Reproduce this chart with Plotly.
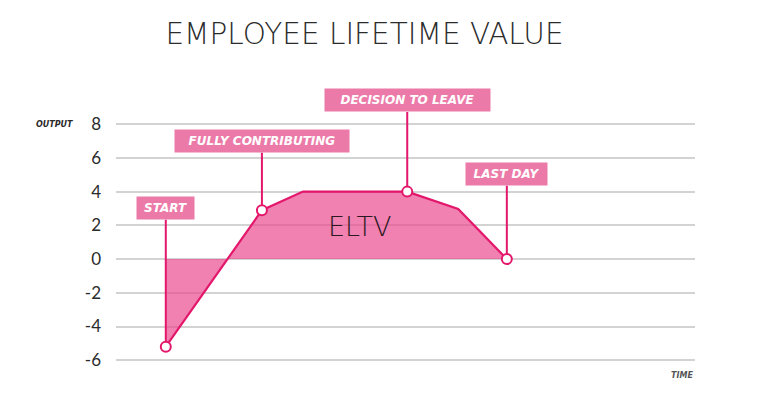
import plotly.graph_objects as go

# Output curve over time
curve_x = [0.86, 2.52, 3.23, 5.03, 5.91, 6.75]
curve_y = [-5.2, 2.9, 4.0, 4.0, 2.97, 0.0]

# Milestones
milestone_names = ["START", "FULLY CONTRIBUTING", "DECISION TO LEAVE", "LAST DAY"]
milestone_x = [0.86, 2.52, 5.03, 6.75]
milestone_y = [-5.2, 2.9, 4.0, 0.0]
label_y = [3.02, 6.98, 9.41, 5.03]
label_w = [57, 174, 165, 81]

y_ticks = [8, 6, 4, 2, 0, -2, -4, -6]
y_tick_text = ["8", "6", "4", "2", "0", "-2", "-4", "-6"]

LINE = "#E3176B"
BOX = "#EC7AA9"
FILL = "rgba(234,70,138,0.68)"
GRID = "#D3D3D3"
TXT = "#2b2b2b"

# page body has an 8px margin: figure is offset by 8px
W, H = 750, 408

fig = go.Figure()

fig.add_trace(go.Scatter(
    x=curve_x, y=curve_y, mode="lines", fill="tozeroy",
    fillcolor=FILL, line=dict(color=LINE, width=2.2), hoverinfo="skip",
    showlegend=False))

for name, mx, my, ly, w in zip(milestone_names, milestone_x, milestone_y, label_y, label_w):
    fig.add_annotation(
        x=mx, y=my, ax=mx, ay=ly, xref="x", yref="y", axref="x", ayref="y",
        text=name, showarrow=True, arrowhead=0, arrowwidth=2, arrowcolor=LINE,
        standoff=5, bgcolor=BOX, width=w - 2, height=20, borderpad=1,
        font=dict(family="DejaVu Sans, sans-serif", size=12, color="white",
                  weight="bold", style="italic"))

fig.add_trace(go.Scatter(
    x=milestone_x, y=milestone_y, mode="markers",
    marker=dict(size=10, color="white", line=dict(color=LINE, width=2)),
    hoverinfo="skip", showlegend=False))

fig.add_annotation(x=4.2, y=1.95, xref="x", yref="y", text="ELTV", showarrow=False,
                   font=dict(family="DejaVu Sans, sans-serif", size=27, color="#2a1822",
                             weight=200))

fig.add_annotation(x=-41 / 579, y=8 / 17.2 + 6.58 / 17.2, xref="paper", yref="paper",
                   text="OUTPUT", showarrow=False, xanchor="right", yanchor="middle",
                   font=dict(family="DejaVu Sans, sans-serif", size=8, color=TXT,
                             weight="bold", style="italic"))
fig.add_annotation(x=1, y=-5 / 290, xref="paper", yref="paper", text="TIME",
                   showarrow=False, xanchor="right", yanchor="middle",
                   font=dict(family="DejaVu Sans, sans-serif", size=8, color="#555",
                             weight="bold", style="italic"))

fig.update_layout(
    width=W, height=H,
    margin=dict(l=108, r=63, t=72, b=46),
    paper_bgcolor="white", plot_bgcolor="white",
    title=dict(text="EMPLOYEE LIFETIME VALUE", x=(364.5 - 8) / W, xanchor="center",
               y=1 - 26 / H, yanchor="middle", xref="container", yref="container",
               font=dict(family="DejaVu Sans, sans-serif", size=29.5, color=TXT, weight=200)),
    xaxis=dict(range=[0, 10], showgrid=False, zeroline=False, showticklabels=False,
               showline=False, fixedrange=True),
    yaxis=dict(range=[-6.58, 10.62], tickvals=y_ticks, ticktext=y_tick_text,
               showgrid=True, gridcolor=GRID,
               gridwidth=1.6, zeroline=False, showline=False, ticklabelstandoff=14,
               tickfont=dict(family="Lato, sans-serif", size=17, color=TXT)),
)

fig.write_html("out.html")
